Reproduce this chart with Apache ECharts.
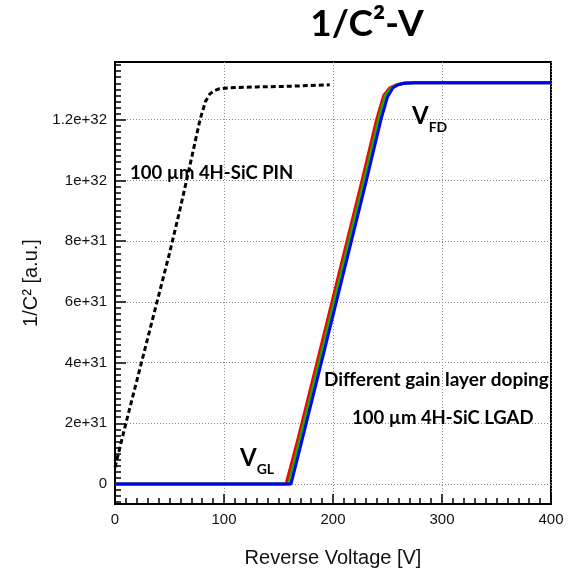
<!DOCTYPE html>
<html>
<head>
<meta charset="utf-8">
<script src="https://cdn.jsdelivr.net/npm/echarts@6/dist/echarts.min.js"></script>
<style>
  html, body { margin: 0; padding: 0; background: #fff; }
  #chart { width: 574px; height: 573px; }
</style>
</head>
<body>
<div id="chart"></div>
<script>
// Values on the vertical axis are in units of 1e31 [a.u.]
const VALUE_UNIT = 1e31;

// 100 µm 4H-SiC PIN: [reverse voltage (V), 1/C^2]
const pinCurve = [
  [0, 0.55], [10, 2.0], [20, 3.4], [30, 4.8], [40, 6.2], [50, 7.6],
  [60, 9.1], [70, 10.7], [78, 12.0], [83, 12.6], [87, 12.85], [91, 12.95],
  [96, 13.02], [105, 13.05], [130, 13.08], [160, 13.1], [197, 13.15]
];

// 100 µm 4H-SiC LGAD, three gain layer doping levels
const lgadRed = [
  [0, 0], [157, 0], [168, 1.5], [186, 4.1], [206, 7.0], [226, 9.9],
  [240, 12.0], [246.5, 12.8], [252, 13.05], [258, 13.15], [265, 13.2],
  [275, 13.22], [400, 13.22]
];
const lgadGreen = [
  [0, 0], [159.5, 0], [170, 1.5], [188, 4.1], [208, 7.0], [228, 9.9],
  [242, 12.0], [248, 12.78], [253.5, 13.05], [259, 13.15], [265, 13.2],
  [275, 13.22], [400, 13.22]
];
const lgadBlue = [
  [0, 0], [161.5, 0], [172, 1.5], [190, 4.1], [210, 7.0], [230, 9.9],
  [244, 12.0], [250, 12.75], [255, 13.05], [260, 13.15], [265, 13.2],
  [275, 13.22], [400, 13.22]
];

// Axis ticks
const xTicks = { min: 0, max: 400, step: 100 };
const yTickValues = [0, 2, 4, 6, 8, 10, 12];
const yTickLabels = ['0', '2e+31', '4e+31', '6e+31', '8e+31', '1e+32', '1.2e+32'];
const yMinorValues = [];
for (let i = -3; i <= 69; i++) {
  if (i % 10 !== 0) yMinorValues.push(+(i * 0.2).toFixed(1));
}
const yRange = { min: -0.659, max: 13.9 };

const axisFont = 'Liberation Sans, Arial, sans-serif';
const noteFont = 'Lato, Carlito, Calibri, sans-serif';

const chart = echarts.init(document.getElementById('chart'), null, { renderer: 'canvas' });

chart.setOption({
  animation: false,
  backgroundColor: '#fff',
  title: {
    text: '1/C²-V',
    left: 362,
    top: 1,
    textAlign: 'center',
    textStyle: { fontFamily: noteFont, fontWeight: 'bold', fontSize: 37, color: '#000' }
  },
  grid: {
    left: 115, right: 23, top: 62, bottom: 68,
    show: true, borderColor: '#000', borderWidth: 2, backgroundColor: 'transparent'
  },
  xAxis: {
    type: 'value',
    min: xTicks.min, max: xTicks.max, interval: xTicks.step,
    name: 'Reverse Voltage [V]',
    nameLocation: 'middle',
    nameGap: 44,
    nameTextStyle: { fontFamily: axisFont, fontSize: 20, color: '#111' },
    axisLine: { show: true, onZero: false, lineStyle: { color: '#000', width: 2 } },
    axisTick: { show: true, inside: true, length: 10, lineStyle: { color: '#000', width: 1.5 } },
    minorTick: { show: true, splitNumber: 10, length: 6, lineStyle: { color: '#000', width: 1.5 } },
    axisLabel: { fontFamily: axisFont, fontSize: 15, color: '#111', margin: 8 },
    splitLine: { show: true, lineStyle: { color: '#888', type: [1, 2], width: 1 } },
    minorSplitLine: { show: false }
  },
  yAxis: [
    {
      type: 'value',
      min: yRange.min, max: yRange.max,
      position: 'left',
      name: '1/C² [a.u.]',
      nameLocation: 'middle',
      nameRotate: 90,
      nameGap: 67,
      nameTextStyle: { fontFamily: axisFont, fontSize: 20, color: '#111' },
      axisLine: { show: true, onZero: false, lineStyle: { color: '#000', width: 2 } },
      axisTick: { show: true, inside: true, length: 11, customValues: yTickValues, lineStyle: { color: '#000', width: 1.5 } },
      axisLabel: {
        fontFamily: axisFont, fontSize: 15, color: '#111', margin: 8,
        customValues: yTickValues,
        formatter: function (v) {
          const i = yTickValues.indexOf(Math.round(v));
          return i >= 0 ? yTickLabels[i] : '';
        }
      },
      splitLine: { show: true, lineStyle: { color: '#888', type: [1, 2], width: 1 } }
    },
    {
      type: 'value',
      min: yRange.min, max: yRange.max,
      position: 'left',
      offset: 0,
      axisLine: { show: true, onZero: false, lineStyle: { color: '#000', width: 2 } },
      axisTick: { show: true, inside: true, length: 6, customValues: yMinorValues, lineStyle: { color: '#000', width: 1.5 } },
      axisLabel: { show: false },
      splitLine: { show: false }
    }
  ],
  series: [
    {
      type: 'line', data: pinCurve, showSymbol: false, yAxisIndex: 0,
      lineStyle: { color: '#000', width: 3, type: [5, 3] }, z: 3
    },
    {
      type: 'line', data: lgadRed, showSymbol: false, yAxisIndex: 0,
      lineStyle: { color: '#ff0000', width: 3 }, z: 4
    },
    {
      type: 'line', data: lgadGreen, showSymbol: false, yAxisIndex: 0,
      lineStyle: { color: '#00bb00', width: 3 }, z: 5
    },
    {
      type: 'line', data: lgadBlue, showSymbol: false, yAxisIndex: 0,
      lineStyle: { color: '#0000ff', width: 3 }, z: 6
    }
  ],
  graphic: [
    {
      type: 'text', left: 130, top: 164, z: 10,
      style: { text: '100 µm 4H-SiC PIN', font: 'bold 18.5px ' + noteFont, fill: '#000' }
    },
    {
      type: 'text', left: 324, top: 370, z: 10,
      style: { text: 'Different gain layer doping', font: 'bold 19px ' + noteFont, fill: '#000' }
    },
    {
      type: 'text', left: 352, top: 409, z: 10,
      style: { text: '100 µm 4H-SiC LGAD', font: 'bold 18.5px ' + noteFont, fill: '#000' }
    },
    {
      type: 'text', left: 412, top: 104, z: 10,
      style: {
        text: '{v|V}{s|FD}', fill: '#000',
        rich: {
          v: { font: 'bold 24px ' + noteFont, verticalAlign: 'bottom' },
          s: { font: 'bold 14px ' + noteFont, verticalAlign: 'bottom', padding: [0, 0, -6, 0] }
        }
      }
    },
    {
      type: 'text', left: 240, top: 446, z: 10,
      style: {
        text: '{v|V}{s|GL}', fill: '#000',
        rich: {
          v: { font: 'bold 24px ' + noteFont, verticalAlign: 'bottom' },
          s: { font: 'bold 14px ' + noteFont, verticalAlign: 'bottom', padding: [0, 0, -6, 0] }
        }
      }
    }
  ]
});
</script>
</body>
</html>
